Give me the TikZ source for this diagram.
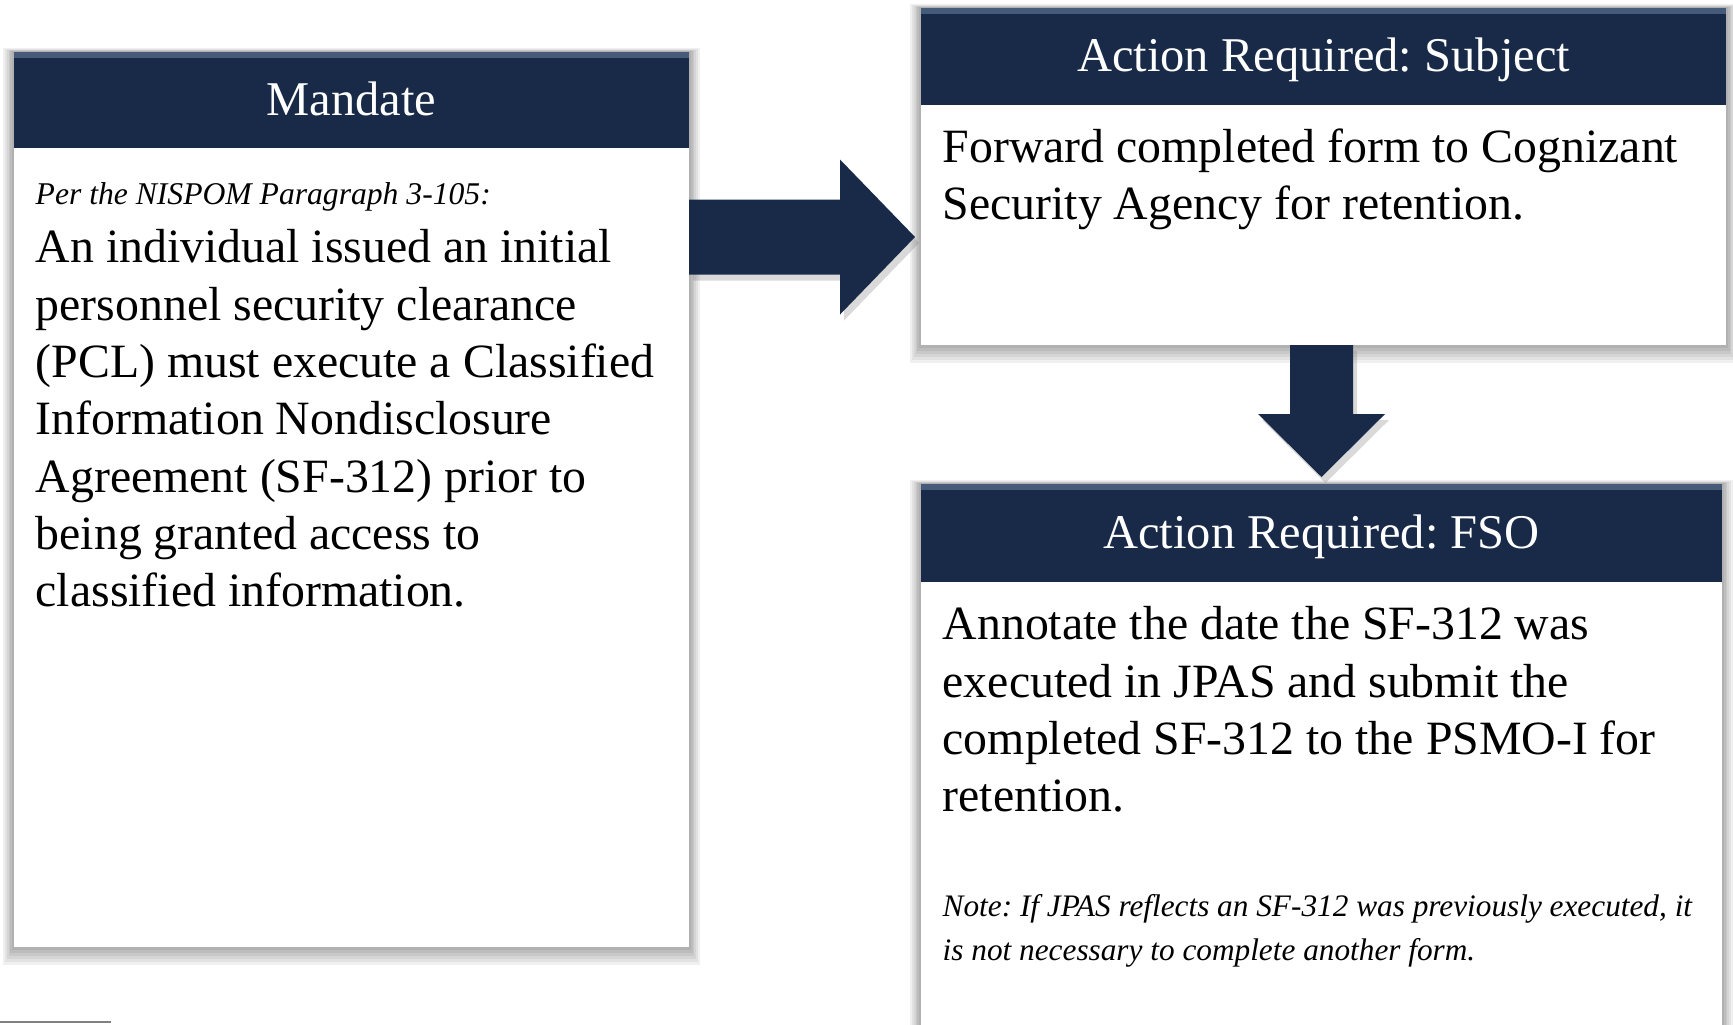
\documentclass[tikz,border=0pt]{standalone}
\usepackage{fontspec}
\setmainfont{Liberation Serif}
\frenchspacing
\usetikzlibrary{calc,backgrounds,shadows}

\definecolor{navy}{RGB}{24,42,72}
\definecolor{navyedge}{RGB}{70,90,122}

\tikzset{
    hdbox/.style={fill=navy,text=white,anchor=north west,inner sep=0pt,outer sep=0pt,
        text height=8.6pt,text depth=0pt,
        font=\fontsize{13.8}{16}\selectfont,
        path picture={\fill[navyedge] (path picture bounding box.north west) rectangle ([yshift=-1.6pt]path picture bounding box.north east);}},
    bodybox/.style={fill=white,anchor=north,inner sep=0pt,outer sep=0pt},
    bodytext/.style={anchor=north west,align=left,inner sep=0pt,font=\fontsize{13.6}{16.3}\selectfont},
    notetext/.style={anchor=north west,align=left,inner sep=0pt,font=\fontsize{8.9}{12.5}\selectfont\itshape},
    blockarrow/.style={fill=navy,drop shadow={shadow xshift=0.4mm,shadow yshift=-0.6mm,opacity=0.3}}
}

% soft shadow behind a header + body pair
\newcommand{\boxshadow}[2]{%
    \foreach \s in {1,...,6}
        \fill[black,opacity=0.06] ([shift={(-\s*0.018,\s*0.006)}]#1.north west)
            rectangle ([shift={(\s*0.018,-\s*0.03)}]#2.south east);
}

\begin{document}
\begin{tikzpicture}
    \useasboundingbox (0,0) rectangle (17.33,-10.24);

    % the three boxes
    \node[hdbox,minimum width=6.75cm,minimum height=0.96cm] (mandatehd) at (0.14,-0.52) {Mandate};
    \node[bodybox,minimum width=6.75cm,minimum height=7.99cm] (mandatebd) at (mandatehd.south) {};

    \node[hdbox,minimum width=8.05cm,minimum height=0.97cm] (subjecthd) at (9.21,-0.08) {Action Required: Subject};
    \node[bodybox,minimum width=8.05cm,minimum height=2.40cm] (subjectbd) at (subjecthd.south) {};

    \node[hdbox,minimum width=8.01cm,minimum height=0.98cm] (fsohd) at (9.21,-4.84) {Action Required: FSO};
    \node[bodybox,minimum width=8.01cm,minimum height=5.60cm] (fsobd) at (fsohd.south) {};

    \begin{scope}[on background layer]
        \boxshadow{mandatehd}{mandatebd}
        \boxshadow{subjecthd}{subjectbd}
        \boxshadow{fsohd}{fsobd}
    \end{scope}

    % texts
    \node[anchor=base west,inner sep=0pt,font=\fontsize{9}{12}\selectfont\itshape] (nispom) at (0.35,-2.04)
        {Per the NISPOM Paragraph 3-105:};
    \node[bodytext] (mandatetx) at (0.35,-2.29)
        {An individual issued an initial\\
         personnel security clearance\\
         (PCL) must execute a Classified\\
         Information Nondisclosure\\
         Agreement (SF-312) prior to\\
         being granted access to\\
         classified information.};

    \node[bodytext] (subjecttx) at (9.42,-1.28)
        {Forward completed form to Cognizant\\
         Security Agency for retention.};

    \node[bodytext] (fsotx) at (9.42,-6.06)
        {Annotate the date the SF-312 was\\
         executed in JPAS and submit the\\
         completed SF-312 to the PSMO-I for\\
         retention.};
    \node[notetext] (fsonote) at (9.42,-8.94)
        {Note: If JPAS reflects an SF-312 was previously executed, it\\
         is not necessary to complete another form.};

    % block arrows
    \coordinate (rtail) at (mandatehd.east |- 0,-2.37);
    \coordinate (rtip) at ([xshift=-0.06cm]subjectbd.west |- 0,-2.37);
    \fill[blockarrow] ($(rtail)+(0,0.375)$) -- ($(rtip)+(-0.75,0.375)$) -- ($(rtip)+(-0.75,0.775)$)
        -- (rtip) -- ($(rtip)+(-0.75,-0.775)$) -- ($(rtip)+(-0.75,-0.375)$) -- ($(rtail)+(0,-0.375)$) -- cycle;

    \coordinate (dtip) at ([yshift=0.07cm]fsohd.north);
    \coordinate (dtail) at (dtip |- subjectbd.south);
    \fill[blockarrow] ($(dtail)+(-0.315,0)$) -- ($(dtip)+(-0.315,0.63)$) -- ($(dtip)+(-0.635,0.63)$)
        -- (dtip) -- ($(dtip)+(0.635,0.63)$) -- ($(dtip)+(0.315,0.63)$) -- ($(dtail)+(0.315,0)$) -- cycle;

    % footnote rule
    \draw[gray,line width=0.8pt] (0,-10.22) -- (1.11,-10.22);
\end{tikzpicture}
\end{document}
